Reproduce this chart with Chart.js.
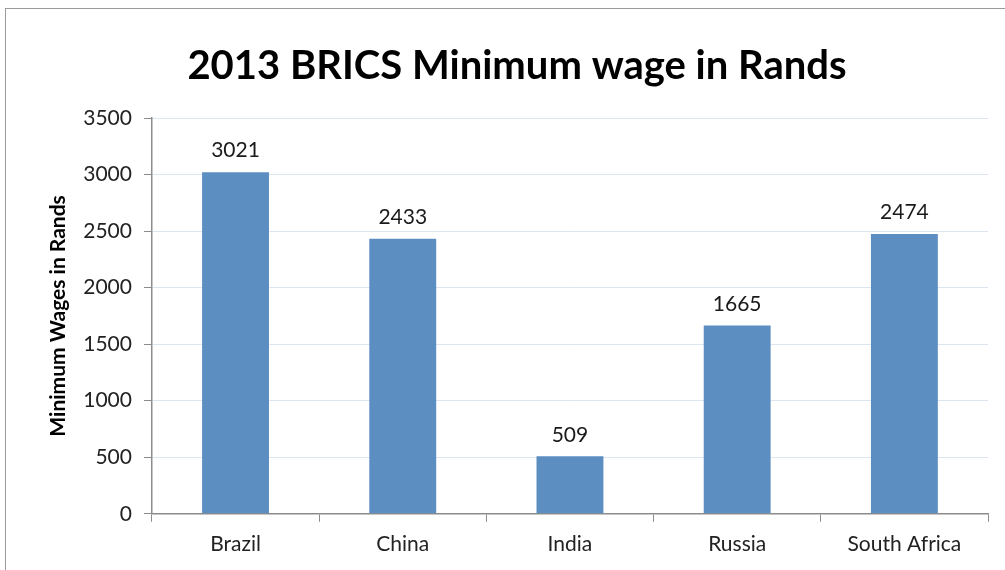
<!DOCTYPE html>
<html>
<head>
<meta charset="utf-8">
<script src="https://cdn.jsdelivr.net/npm/chart.js@4"></script>
<style>
  body { margin: 0; background: #fff; overflow: hidden; }
  #wrap { position: relative; width: 1005px; height: 570px; }
  #frame { position: absolute; left: 5px; top: 8px; width: 1010px; height: 580px; border: 1.5px solid #9a9a9a; pointer-events: none; }
</style>
</head>
<body>
<div id="wrap">
  <canvas id="myChart" width="1005" height="570"></canvas>
  <div id="frame"></div>
</div>
<script>
const countries = ["Brazil", "China", "India", "Russia", "South Africa"];
const wages = [3021, 2433, 509, 1665, 2474];
const yTicks = [0, 500, 1000, 1500, 2000, 2500, 3000, 3500];

const ctx = document.getElementById("myChart");
const font = "Lato, 'Open Sans', sans-serif";

// draws the value above each bar
const barLabels = {
  id: "barLabels",
  afterDatasetsDraw(chart) {
    const c = chart.ctx;
    const meta = chart.getDatasetMeta(0);
    c.save();
    c.font = "21px " + font;
    c.fillStyle = "#1a1a1a";
    c.textAlign = "center";
    c.textBaseline = "bottom";
    meta.data.forEach((bar, i) => {
      c.fillText(wages[i], bar.x, bar.y - 11);
    });
    c.restore();
  },
};

new Chart(ctx, {
  type: "bar",
  data: {
    labels: countries,
    datasets: [
      {
        label: "Minimum wage",
        data: wages,
        backgroundColor: "#5c8ec2",
        barPercentage: 0.4,
        categoryPercentage: 1,
      },
    ],
  },
  options: {
    responsive: false,
    animation: false,
    layout: { padding: { top: 42, right: 17, left: 46, bottom: 3 } },
    plugins: {
      legend: { display: false },
      tooltip: { enabled: false },
      title: {
        display: true,
        text: "2013 BRICS Minimum wage in Rands",
        color: "#000",
        font: { family: font, size: 40, weight: "bold" },
        padding: { top: 0, bottom: 28 },
      },
    },
    scales: {
      x: {
        grid: {
          display: true,
          drawOnChartArea: false,
          offset: true,
          color: "#8c8c8c",
          tickLength: 8,
        },
        border: { color: "#8c8c8c", width: 1.5 },
        ticks: { color: "#222", font: { family: font, size: 21 }, padding: 10 },
      },
      y: {
        min: 0,
        max: 3500,
        afterBuildTicks: (axis) => {
          axis.ticks = yTicks.map((v) => ({ value: v }));
        },
        grid: { color: "#dbe6f2", tickColor: "#8c8c8c", tickLength: 8 },
        border: { color: "#8c8c8c", width: 1.5 },
        ticks: {
          color: "#222",
          font: { family: font, size: 21 },
          padding: 12,
          callback: (v) => String(v),
        },
        title: {
          display: true,
          text: "Minimum Wages in Rands",
          color: "#000",
          font: { family: font, size: 21, weight: "bold" },
          padding: { top: 0, bottom: 0 },
        },
      },
    },
  },
  plugins: [barLabels],
});
</script>
</body>
</html>
